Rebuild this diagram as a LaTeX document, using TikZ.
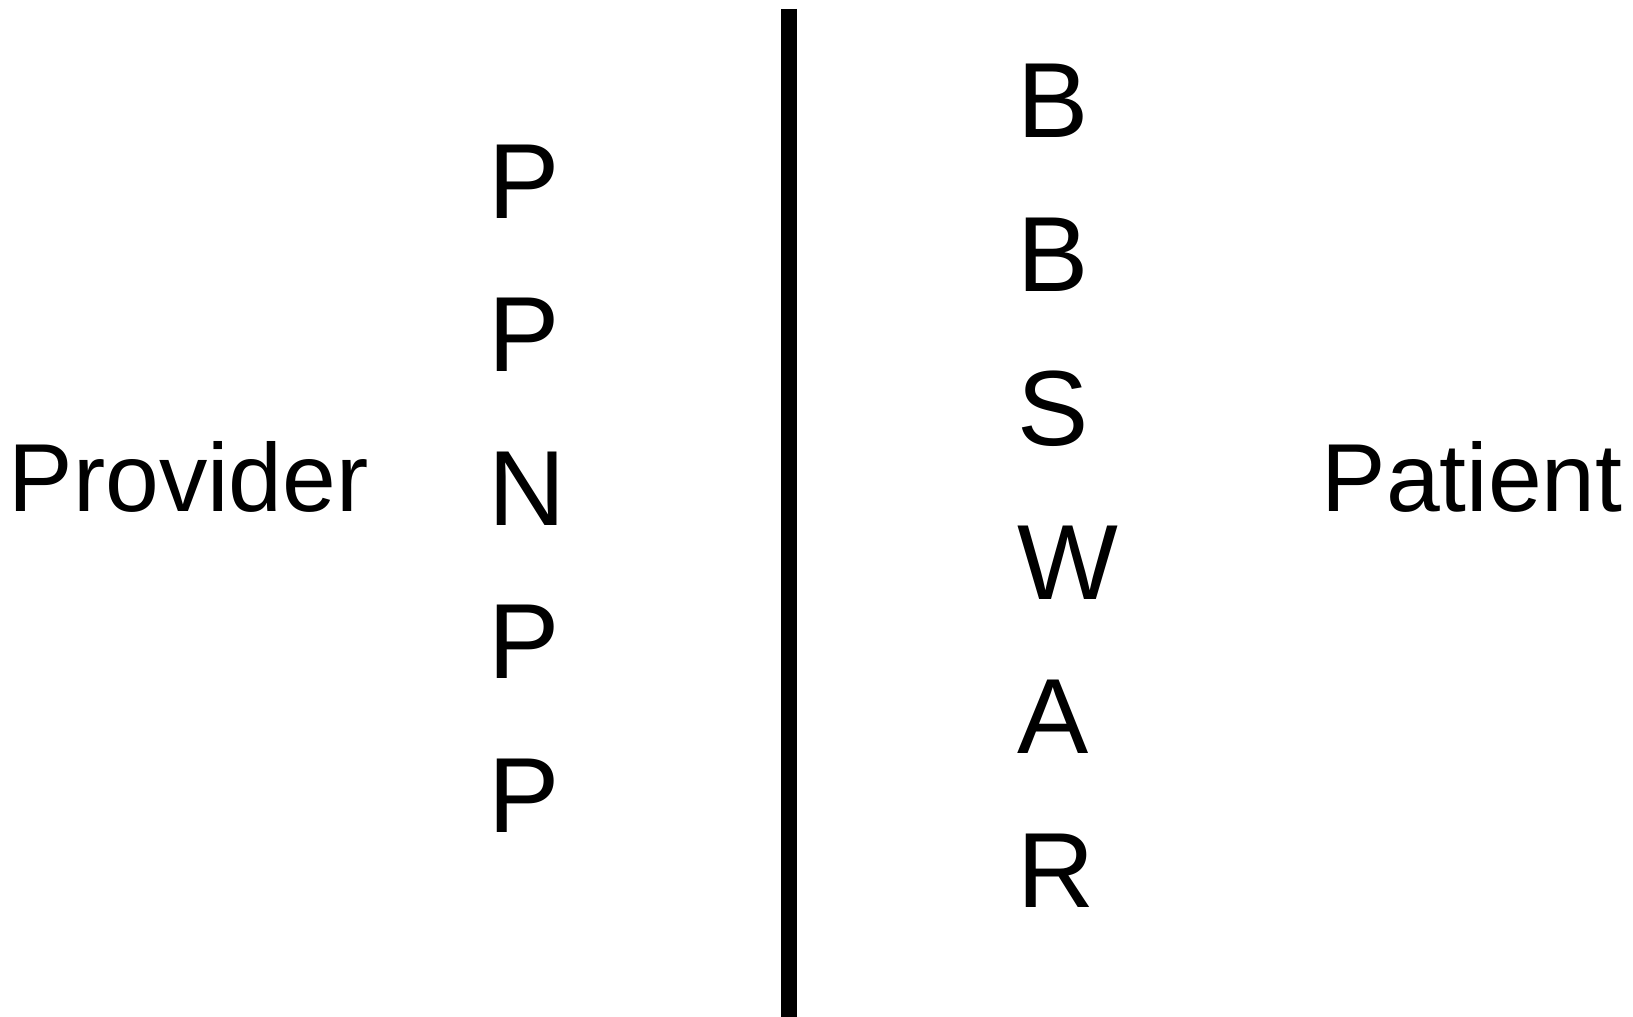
\documentclass[tikz,border=0pt]{standalone}
\usepackage{fontspec}
\setmainfont{Liberation Sans}
\tikzset{
  side/.style={anchor=base west,inner sep=0pt,font=\fontsize{27.5}{33}\selectfont},
  letter/.style={anchor=base west,inner sep=0pt,font=\fontsize{30.4}{36}\selectfont}
}
\begin{document}
\begin{tikzpicture}
  \useasboundingbox (0,0) rectangle (16.33,10.17);

  \node[side] (provider) at (0.08,5.05) {Provider};
  \node[side] (patient) at (13.21,5.05) {Patient};

  \node[letter] (l1) at (4.88,7.985) {P};
  \node[letter] (l2) at (4.88,6.45) {P};
  \node[letter] (l3) at (4.88,4.913) {N};
  \node[letter] (l4) at (4.88,3.38) {P};
  \node[letter] (l5) at (4.88,1.84) {P};

  \node[letter] (r1) at (10.17,8.79) {B};
  \node[letter] (r2) at (10.17,7.25) {B};
  \node[letter] (r3) at (10.17,5.71) {S};
  \node[letter] (r4) at (10.17,4.17) {W};
  \node[letter] (r5) at (10.17,2.63) {A};
  \node[letter] (r6) at (10.17,1.09) {R};

  \coordinate (top) at (7.89,10.08);
  \coordinate (bottom) at (7.89,0);
  \draw[line width=0.157cm] (top) -- (bottom);
\end{tikzpicture}
\end{document}
